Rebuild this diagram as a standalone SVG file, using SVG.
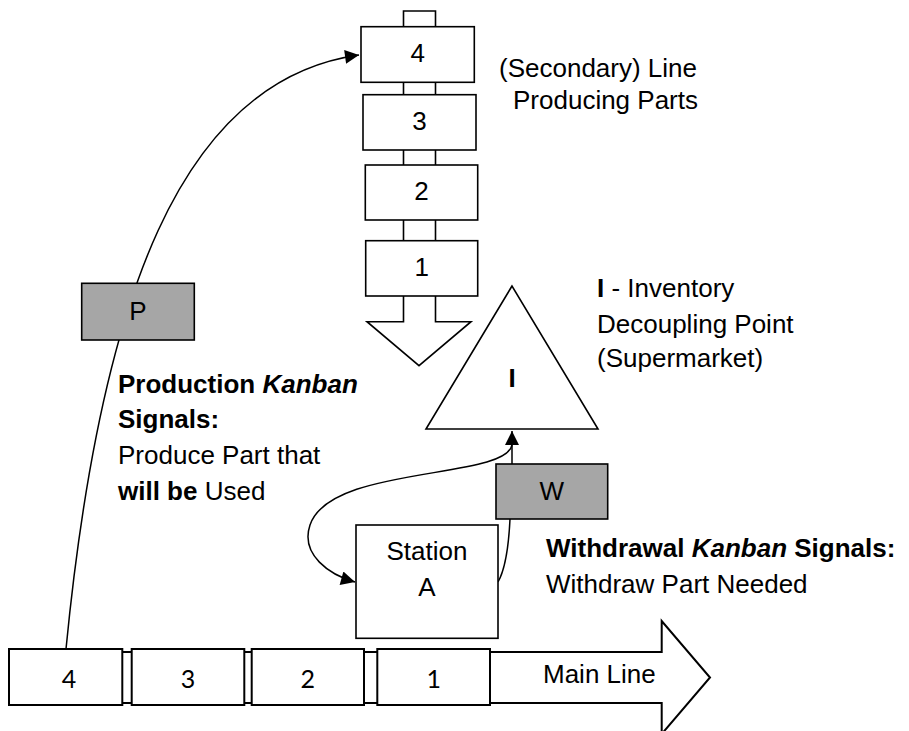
<svg xmlns="http://www.w3.org/2000/svg" width="909" height="731" viewBox="0 0 909 731">
  <defs>
    <style>
      .box { fill: #ffffff; stroke: #000000; stroke-width: 1.6; }
      .mbox { fill: #ffffff; stroke: #000000; stroke-width: 2; }
      .card { fill: #a6a6a6; stroke: #000000; stroke-width: 1.6; }
      .link { fill: none; stroke: #000000; stroke-width: 1.5; marker-end: url(#head); }
      .t { font-family: "Liberation Sans", Arial, sans-serif; font-size: 26px; fill: #000000; }
      .n { font-family: Lato, "Liberation Sans", sans-serif; font-size: 25px; fill: #000000; }
      .mid { text-anchor: middle; }
      .b { font-weight: bold; }
      .bi { font-weight: bold; font-style: italic; }
    </style>
    <marker id="head" viewBox="0 0 10 10" refX="10" refY="5" markerUnits="userSpaceOnUse" markerWidth="15" markerHeight="14" orient="auto">
      <path d="M0,0 L10,5 L0,10 Z" fill="#000000"/>
    </marker>
  </defs>

  <!-- connectors -->
  <g id="connectors">
    <!-- production kanban: main line station 4 up to secondary line station 4 -->
    <path class="link" d="M66,649 C100,300 180,80 359,55"/>
    <!-- withdrawal: station A up through W card to the supermarket -->
    <path class="link" d="M498,582 C507,566 509,540 510,519 L512,464 L512,431"/>
    <!-- supermarket back down to station A -->
    <path class="link" d="M512,445 C505,480 330,465 310,525 C300,555 330,575 355,582"/>
  </g>

  <!-- secondary line: block arrow pointing down with its stations -->
  <g id="secondary-line">
    <polygon class="box" points="403.5,11 435.5,11 435.5,321.7 471,321.7 419,365.7 367,321.7 403.5,321.7"/>
  </g>
  <g id="s4">
    <rect class="box" x="361" y="26.7" width="113.3" height="55.6"/>
    <text class="t mid" x="417.7" y="62">4</text>
  </g>
  <g id="s3">
    <rect class="box" x="363" y="94.7" width="113" height="55.3"/>
    <text class="t mid" x="419.5" y="130">3</text>
  </g>
  <g id="s2">
    <rect class="box" x="365.3" y="165" width="112.4" height="55"/>
    <text class="t mid" x="421.5" y="200">2</text>
  </g>
  <g id="s1">
    <rect class="box" x="365.7" y="240.7" width="112" height="55.3"/>
    <text class="t mid" x="421.7" y="276">1</text>
  </g>
  <g id="secondary-label">
    <text class="t" x="499" y="77">(Secondary) Line</text>
    <text class="t" x="513" y="109">Producing Parts</text>
  </g>

  <!-- inventory / supermarket -->
  <g id="inventory">
    <polygon class="box" points="512,286 426,429 598,429"/>
    <text class="t mid b" x="512" y="386.5">I</text>
  </g>
  <g id="inventory-label">
    <text class="t" x="597" y="296.5"><tspan class="b">I</tspan> - Inventory</text>
    <text class="t" x="597" y="333">Decoupling Point</text>
    <text class="t" x="597" y="367">(Supermarket)</text>
  </g>

  <!-- kanban cards -->
  <g id="card-p">
    <rect class="card" x="81.7" y="283.3" width="112.6" height="56.7"/>
    <text class="t mid" x="138" y="320">P</text>
  </g>
  <g id="card-w">
    <rect class="card" x="496" y="464" width="111.7" height="55"/>
    <text class="t mid" x="551.8" y="500">W</text>
  </g>

  <g id="production-label">
    <text class="t" x="118" y="393"><tspan class="b">Production </tspan><tspan class="bi">Kanban</tspan></text>
    <text class="t b" x="118" y="428">Signals:</text>
    <text class="t" x="118" y="464">Produce Part that</text>
    <text class="t" x="118" y="500"><tspan class="b">will be</tspan> Used</text>
  </g>

  <g id="withdrawal-label">
    <text class="t" x="546" y="557"><tspan class="b">Withdrawal </tspan><tspan class="bi">Kanban</tspan><tspan class="b"> Signals:</tspan></text>
    <text class="t" x="546" y="593">Withdraw Part Needed</text>
  </g>

  <!-- station A -->
  <g id="station-a">
    <rect class="box" x="356" y="525" width="142" height="113.3"/>
    <text class="t mid" x="427" y="560">Station</text>
    <text class="t mid" x="427" y="596">A</text>
  </g>

  <!-- main line: block arrow pointing right with its stations -->
  <g id="main-line">
    <polygon class="mbox" points="9,652 661.7,652 661.7,621 710,677.5 661.7,734 661.7,703 9,703"/>
    <text class="t" x="543" y="683">Main Line</text>
  </g>
  <g id="m4">
    <rect class="mbox" x="9" y="649" width="113.3" height="56"/>
    <text class="n mid" x="69" y="688">4</text>
  </g>
  <g id="m3">
    <rect class="mbox" x="131.7" y="649" width="112.6" height="56"/>
    <text class="n mid" x="188" y="688">3</text>
  </g>
  <g id="m2">
    <rect class="mbox" x="251.7" y="649" width="112.3" height="56"/>
    <text class="n mid" x="307.8" y="688">2</text>
  </g>
  <g id="m1">
    <rect class="mbox" x="377.3" y="649" width="112.7" height="56"/>
    <text class="n mid" x="433.7" y="688">1</text>
  </g>
</svg>
